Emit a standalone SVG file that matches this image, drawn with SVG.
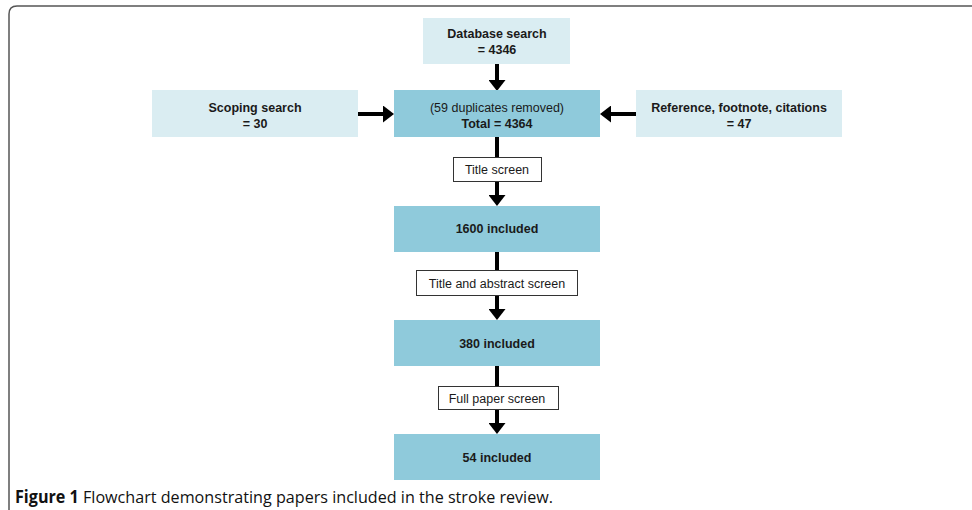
<svg xmlns="http://www.w3.org/2000/svg" width="972" height="510" viewBox="0 0 972 510">
<style>
.bg{fill:#ffffff}
.frame{fill:none;stroke:#555;stroke-width:1.5}
.light{fill:#daedf2}
.dark{fill:#8fcadb}
.screen{fill:#ffffff;stroke:#333;stroke-width:1}
.b{font-family:"Liberation Sans",Arial,sans-serif;font-size:12.5px;font-weight:bold;fill:#1a1a1a;text-anchor:middle}
.n{font-family:"Liberation Sans",Arial,sans-serif;font-size:12.5px;fill:#1a1a1a;text-anchor:middle}
.cap{font-family:"Open Sans","Liberation Sans",sans-serif;font-size:17px;fill:#111}
.conn{fill:none;stroke:#000;stroke-width:4}
</style>
<defs>
<marker id="ah" viewBox="0 0 11 17" refX="0" refY="8.5" markerWidth="11" markerHeight="17" markerUnits="userSpaceOnUse" orient="auto">
<path d="M0,0 L11,8.5 L0,17 Z" fill="#000"/>
</marker>
</defs>
<rect class="bg" x="0" y="0" width="972" height="510"/>
<path class="frame" d="M9,520 L9,14 Q9,6 17,6 L980,6"/>

<g id="connectors">
<path class="conn" d="M497,64 L497,80" marker-end="url(#ah)"/>
<path class="conn" d="M358,114 L383,114" marker-end="url(#ah)"/>
<path class="conn" d="M637,114 L611,114" marker-end="url(#ah)"/>
<path class="conn" d="M497,137 L497,157"/>
<path class="conn" d="M497,181 L497,195" marker-end="url(#ah)"/>
<path class="conn" d="M497,252 L497,270"/>
<path class="conn" d="M497,295 L497,309" marker-end="url(#ah)"/>
<path class="conn" d="M497,366 L497,387"/>
<path class="conn" d="M497,409 L497,423" marker-end="url(#ah)"/>
</g>

<g id="database">
<rect class="light" x="423" y="18" width="147" height="46"/>
<text class="b" x="497" y="38">Database search</text>
<text class="b" x="497" y="54">= 4346</text>
</g>
<g id="scoping">
<rect class="light" x="152" y="90" width="206" height="47"/>
<text class="b" x="255" y="112">Scoping search</text>
<text class="b" x="255" y="128">= 30</text>
</g>
<g id="total">
<rect class="dark" x="394" y="90" width="206" height="47"/>
<text class="n" x="497" y="112">(59 duplicates removed)</text>
<text class="b" x="497" y="128">Total = 4364</text>
</g>
<g id="reference">
<rect class="light" x="636" y="90" width="206" height="47"/>
<text class="b" x="739" y="112">Reference, footnote, citations</text>
<text class="b" x="739" y="128">= 47</text>
</g>
<g id="title-screen">
<rect class="screen" x="453.5" y="157.5" width="88" height="24"/>
<text class="n" x="497" y="174">Title screen</text>
</g>
<g id="included-1600">
<rect class="dark" x="394" y="206" width="206" height="46"/>
<text class="b" x="497" y="233">1600 included</text>
</g>
<g id="abstract-screen">
<rect class="screen" x="416.5" y="270.5" width="161" height="25"/>
<text class="n" x="497" y="288">Title and abstract screen</text>
</g>
<g id="included-380">
<rect class="dark" x="394" y="320" width="206" height="46"/>
<text class="b" x="497" y="348">380 included</text>
</g>
<g id="full-paper-screen">
<rect class="screen" x="438.5" y="386.5" width="120" height="23"/>
<text class="n" x="497" y="403">Full paper screen</text>
</g>
<g id="included-54">
<rect class="dark" x="394" y="434" width="206" height="46"/>
<text class="b" x="497" y="462">54 included</text>
</g>

<text class="cap" x="15" y="503" textLength="538" lengthAdjust="spacingAndGlyphs"><tspan font-weight="bold">Figure 1</tspan> Flowchart demonstrating papers included in the stroke review.</text>
</svg>
